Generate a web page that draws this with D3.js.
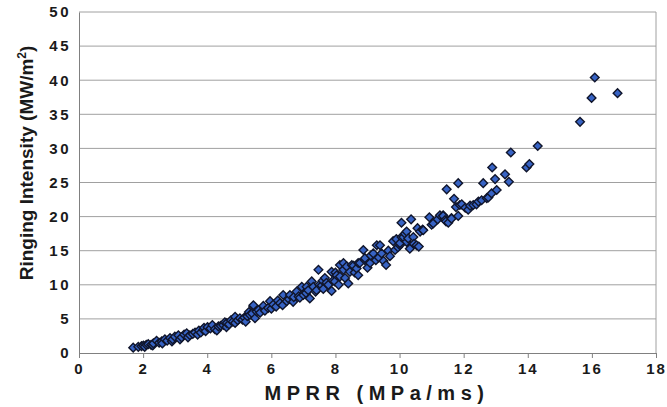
<!DOCTYPE html>
<html>
<head>
<meta charset="utf-8">
<script src="https://cdn.jsdelivr.net/npm/d3@7/dist/d3.min.js"></script>
<style>
  html, body { margin: 0; padding: 0; background: #ffffff; }
  svg { display: block; }
  text { font-family: "Liberation Sans", Arial, sans-serif; font-weight: bold; fill: #1a1a1a; }
</style>
</head>
<body>
<svg id="chart" width="667" height="407"></svg>
<script>
// ---- Data ----
const mprr = [
  1.69,1.85,1.95,2.01,2.05,2.10,2.16,2.25,2.30,2.32,2.42,2.50,2.58,2.60,2.68,2.75,2.84,2.90,2.92,2.99,
  3.10,3.15,3.20,3.28,3.36,3.40,3.46,3.55,3.62,3.70,3.74,3.80,3.88,3.90,3.95,4.01,4.10,4.16,4.24,4.30,
  4.35,4.42,4.50,4.55,4.60,4.61,4.68,4.74,4.80,4.87,4.87,4.95,5.02,5.10,5.16,5.20,5.25,5.30,5.33,5.40,
  5.44,5.49,5.54,5.44,5.60,5.65,5.75,5.80,5.90,5.96,6.00,6.06,6.15,6.20,6.27,6.35,6.37,6.48,6.55,6.58,
  6.68,6.70,6.79,6.85,6.89,6.95,7.00,7.08,7.10,7.15,7.20,7.26,7.31,7.38,7.41,7.47,7.50,7.57,7.60,7.62,
  7.67,7.72,7.78,7.88,7.88,7.92,7.98,8.00,8.04,8.10,8.14,8.14,8.25,8.25,8.30,8.35,8.40,8.45,8.51,8.56,
  8.60,8.66,8.71,8.71,8.76,8.87,8.92,8.92,9.00,9.08,9.10,9.18,9.26,9.29,9.35,9.39,9.44,9.50,9.58,9.65,
  9.70,9.80,9.86,9.90,9.95,10.01,10.01,10.06,10.06,10.12,10.17,10.22,10.22,10.27,10.32,10.36,10.43,10.45,10.53,10.56,
  10.60,10.64,10.72,10.74,10.93,11.00,11.05,11.19,11.26,11.36,11.36,11.42,11.45,11.47,11.52,11.62,11.62,11.70,11.76,11.83,
  11.83,11.88,11.94,12.05,12.14,12.20,12.30,12.40,12.46,12.56,12.61,12.72,12.77,12.87,12.89,12.98,13.03,13.29,13.41,13.47,
  13.96,14.05,14.31,15.63,15.99,16.09,16.80
];
const intensity = [
  0.78,0.90,1.00,1.10,0.90,1.20,1.30,1.20,1.10,1.40,1.80,1.50,1.70,1.40,2.00,1.80,2.20,1.70,2.00,2.40,
  2.60,2.00,2.30,2.70,2.90,2.30,2.60,2.80,3.00,2.70,3.30,3.00,3.40,3.70,3.20,3.80,3.60,4.10,3.50,3.30,
  3.90,4.00,4.10,4.50,3.80,4.40,4.20,4.80,4.60,5.30,4.40,4.80,5.10,4.90,5.20,4.60,5.40,6.00,5.60,5.80,
  6.80,5.10,6.10,7.00,6.30,5.90,6.90,6.20,6.60,7.60,6.50,7.10,6.80,7.70,7.30,7.00,8.50,7.60,7.90,8.50,
  7.50,8.20,9.00,8.30,8.10,9.70,8.50,8.80,9.70,9.20,8.00,10.50,9.70,9.00,9.20,12.20,10.00,9.90,10.60,9.40,
  11.00,10.30,10.00,11.90,9.10,10.60,10.50,11.80,11.40,10.00,12.90,11.20,12.20,13.20,11.00,12.70,10.20,11.90,12.90,12.80,
  11.80,12.40,13.20,11.40,13.20,15.10,13.60,13.90,12.50,13.20,14.30,14.60,13.60,15.80,14.00,15.80,14.60,13.50,12.90,15.00,
  14.20,16.40,15.10,16.70,15.50,15.80,16.10,17.00,19.10,17.00,17.50,17.80,16.30,16.80,15.30,19.60,17.00,16.00,15.80,18.30,
  15.60,17.80,18.10,18.00,19.90,18.80,19.00,19.60,20.20,20.20,20.10,19.50,19.30,24.00,19.10,19.80,19.70,22.60,21.40,24.90,
  20.10,21.70,21.80,21.30,21.00,21.60,21.70,21.80,22.20,22.40,24.90,22.70,22.80,23.40,27.20,25.50,23.90,26.20,25.10,29.40,
  27.20,27.70,30.35,33.90,37.40,40.40,38.10
];
const xTicks = [0, 2, 4, 6, 8, 10, 12, 14, 16, 18];
const yTicks = [0, 5, 10, 15, 20, 25, 30, 35, 40, 45, 50];
const xTitle = "MPRR (MPa/ms)";
const yTitle = "Ringing Intensity (MW/m";

// ---- Layout ----
const svg = d3.select("#chart");
const plotLeft = 79, plotRight = 656, plotTop = 12, plotBottom = 353;

const x = d3.scaleLinear().domain([0, 18]).range([plotLeft, plotRight]);
const y = d3.scaleLinear().domain([0, 50]).range([plotBottom, plotTop]);

// gridlines
svg.append("g")
  .selectAll("line")
  .data(yTicks.filter(d => d > 0))
  .join("line")
  .attr("x1", plotLeft).attr("x2", plotRight)
  .attr("y1", d => y(d)).attr("y2", d => y(d))
  .attr("stroke", "#a0a0a0").attr("stroke-width", 1);

// plot frame (right side)
svg.append("line")
  .attr("x1", plotRight).attr("x2", plotRight).attr("y1", plotTop).attr("y2", plotBottom)
  .attr("stroke", "#a0a0a0").attr("stroke-width", 1);

// x axis
const xAxis = svg.append("g")
  .attr("transform", `translate(0,${plotBottom})`)
  .call(d3.axisBottom(x).tickValues(xTicks).tickSize(5).tickPadding(5).tickFormat(d3.format("d")));
xAxis.select(".domain").attr("stroke", "#808080");
xAxis.selectAll(".tick line").attr("stroke", "#808080");
xAxis.selectAll(".tick text")
  .style("font-size", "15px").style("font-weight", "bold")
  .style("font-family", '"Liberation Sans", Arial, sans-serif')
  .style("letter-spacing", "2px")
  .attr("fill", "#1a1a1a");

// y axis
const yAxis = svg.append("g")
  .attr("transform", `translate(${plotLeft},0)`)
  .call(d3.axisLeft(y).tickValues(yTicks).tickSize(0).tickPadding(8).tickFormat(d3.format("d")));
yAxis.select(".domain").attr("stroke", "#808080");
yAxis.selectAll(".tick text")
  .style("font-size", "15px").style("font-weight", "bold")
  .style("font-family", '"Liberation Sans", Arial, sans-serif')
  .style("letter-spacing", "2.5px")
  .attr("fill", "#1a1a1a");

// points (diamonds)
const data = mprr.map((v, i) => ({ x: v, y: intensity[i] }));
const diamond = d3.symbol().type(d3.symbolDiamond2).size(48);
svg.append("g")
  .selectAll("path")
  .data(data)
  .join("path")
  .attr("d", diamond)
  .attr("transform", d => `translate(${x(d.x)},${y(d.y)})`)
  .attr("fill", "#3763c4")
  .attr("stroke", "#10152b")
  .attr("stroke-width", 1.4);

// axis titles
svg.append("text")
  .attr("x", 377).attr("y", 400)
  .attr("text-anchor", "middle")
  .style("font-size", "20px")
  .style("letter-spacing", "5.5px")
  .text(xTitle);

const yt = svg.append("text")
  .attr("transform", "translate(33,163) rotate(-90)")
  .attr("text-anchor", "middle")
  .style("font-size", "19px");
yt.append("tspan").text(yTitle);
yt.append("tspan").attr("dy", "-7").style("font-size", "12px").text("2");
yt.append("tspan").attr("dy", "7").text(")");
</script>
</body>
</html>
